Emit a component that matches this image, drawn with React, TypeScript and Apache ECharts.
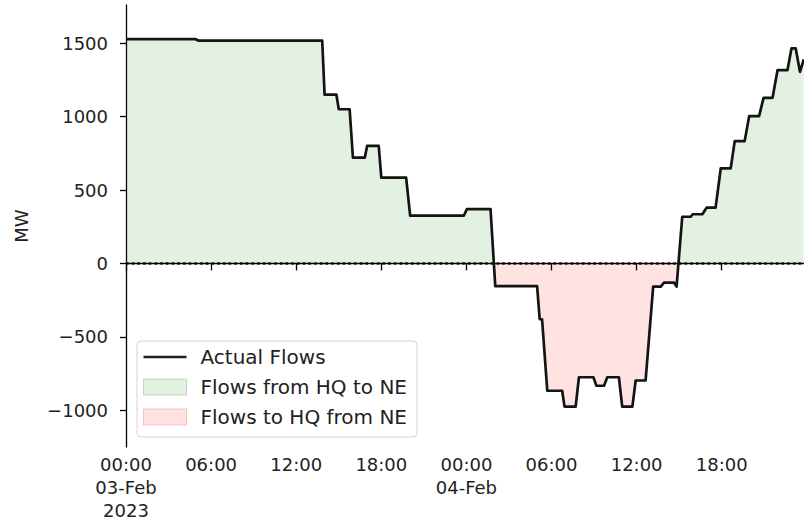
import React, { useEffect, useRef } from 'react';
import * as echarts from 'echarts';

// Hydro-Québec <-> New England tie flows, MW
const times = [
  '2023-02-03 00:00', '2023-02-03 04:55', '2023-02-03 05:05', '2023-02-03 13:50',
  '2023-02-03 14:00', '2023-02-03 14:50', '2023-02-03 15:00', '2023-02-03 15:46',
  '2023-02-03 16:00', '2023-02-03 16:50', '2023-02-03 17:00', '2023-02-03 17:49',
  '2023-02-03 18:00', '2023-02-03 19:45', '2023-02-03 20:02', '2023-02-03 23:49',
  '2023-02-04 00:02', '2023-02-04 01:42', '2023-02-04 02:02', '2023-02-04 04:59',
  '2023-02-04 05:10', '2023-02-04 05:20', '2023-02-04 05:42', '2023-02-04 06:45',
  '2023-02-04 06:55', '2023-02-04 07:42', '2023-02-04 07:56', '2023-02-04 08:57',
  '2023-02-04 09:10', '2023-02-04 09:42', '2023-02-04 09:56', '2023-02-04 10:45',
  '2023-02-04 10:59', '2023-02-04 11:42', '2023-02-04 11:56', '2023-02-04 12:38',
  '2023-02-04 13:10', '2023-02-04 13:42', '2023-02-04 13:56', '2023-02-04 14:38',
  '2023-02-04 14:49', '2023-02-04 15:13', '2023-02-04 15:49', '2023-02-04 15:57',
  '2023-02-04 16:38', '2023-02-04 16:56', '2023-02-04 17:34', '2023-02-04 17:56',
  '2023-02-04 18:38', '2023-02-04 18:55', '2023-02-04 19:37', '2023-02-04 19:56',
  '2023-02-04 20:38', '2023-02-04 20:57', '2023-02-04 21:35', '2023-02-04 21:56',
  '2023-02-04 22:38', '2023-02-04 22:55', '2023-02-04 23:13', '2023-02-04 23:31',
  '2023-02-04 23:47',
];
const flows = [
  1527, 1527, 1518, 1518,
  1150, 1150, 1050, 1050,
  720, 720, 800, 800,
  585, 585, 325, 325,
  370, 370, -155, -155,
  -380, -380, -867, -867,
  -975, -975, -775, -775,
  -833, -833, -775, -775,
  -975, -975, -797, -797,
  -158, -158, -130, -130,
  -158, 318, 318, 335,
  335, 380, 380, 648,
  648, 833, 833, 1003,
  1003, 1128, 1128, 1316,
  1316, 1464, 1464, 1305,
  1389,
];

const xStart = '2023-02-03 00:00';
const xEnd = '2023-02-04 23:48';
const xTickTimes = [
  '2023-02-03 00:00', '2023-02-03 06:00', '2023-02-03 12:00', '2023-02-03 18:00',
  '2023-02-04 00:00', '2023-02-04 06:00', '2023-02-04 12:00', '2023-02-04 18:00',
];
const xTickLabels = [
  '00:00\n03-Feb\n2023', '06:00', '12:00', '18:00',
  '00:00\n04-Feb', '06:00', '12:00', '18:00',
];
const yTicks = [-1000, -500, 0, 500, 1000, 1500];
const yMin = -1250;
const yMax = 1760;
const zeroLevel = 0;

const seriesNames = ['Actual Flows', 'Flows from HQ to NE', 'Flows to HQ from NE'];

function ts(s: string): number {
  const [d, t] = s.split(' ');
  const [Y, M, D] = d.split('-').map(Number);
  const [h, mi] = t.split(':').map(Number);
  return Date.UTC(Y, M - 1, D, h, mi);
}

const FONT = 'DejaVu Sans';
const GREEN_FILL = 'rgba(0,128,0,0.11)';
const RED_FILL = 'rgba(255,0,0,0.11)';
const LINE_COLOR = '#141414';

export default function App() {
  const ref = useRef<HTMLDivElement>(null);

  useEffect(() => {
    document.body.style.margin = '0';
    if (!ref.current) return;
    const chart = echarts.init(ref.current, null, { renderer: 'svg' });
    const data = times.map((t, i) => [ts(t), flows[i]]);
    const tickVals = xTickTimes.map(ts);
    const labelFor = (v: number) => {
      let best = 0;
      tickVals.forEach((tv, i) => {
        if (Math.abs(tv - v) < Math.abs(tickVals[best] - v)) best = i;
      });
      return xTickLabels[best];
    };

    chart.setOption({
      animation: false,
      textStyle: { fontFamily: FONT },
      grid: { left: 126, right: 0, top: 5, bottom: 76, containLabel: false, outerBoundsMode: 'none' },
      legend: {
        orient: 'vertical',
        left: 137,
        top: 341,
        padding: [6, 10, 10, 6],
        itemWidth: 43,
        itemHeight: 16,
        itemGap: 10,
        backgroundColor: 'rgba(255,255,255,0.8)',
        borderColor: '#d4d4d4',
        borderWidth: 1,
        borderRadius: 4,
        selectedMode: false,
        textStyle: { fontFamily: FONT, fontSize: 20, lineHeight: 20, color: '#222', padding: [0, 0, 0, 9] },
        data: [
          { name: seriesNames[0], icon: 'path://M0,0H43V2.6H0Z', itemStyle: { color: '#222', borderWidth: 0 } },
          { name: seriesNames[1], icon: 'rect', itemStyle: { color: GREEN_FILL, borderColor: 'rgba(0,128,0,0.22)', borderWidth: 1 } },
          { name: seriesNames[2], icon: 'rect', itemStyle: { color: RED_FILL, borderColor: 'rgba(255,0,0,0.22)', borderWidth: 1 } },
        ],
      },
      visualMap: {
        show: false,
        type: 'piecewise',
        seriesIndex: 0,
        dimension: 1,
        pieces: [
          { min: -100000, max: 0, color: RED_FILL },
          { min: 0, max: 100000, color: GREEN_FILL },
        ],
        outOfRange: { color: GREEN_FILL },
      },
      xAxis: {
        type: 'value',
        min: ts(xStart),
        max: ts(xEnd),
        axisLine: { show: true, lineStyle: { color: '#000', width: 1.3 } },
        axisTick: {
          show: true,
          customValues: tickVals,
          length: 7,
          lineStyle: { color: '#000', width: 1.3 },
        },
        axisLabel: {
          customValues: tickVals,
          formatter: (v: number) => labelFor(v),
          fontFamily: FONT,
          fontSize: 18,
          lineHeight: 23,
          color: '#222',
          margin: 6,
        },
        splitLine: { show: false },
      },
      yAxis: {
        type: 'value',
        min: yMin,
        max: yMax,
        name: 'MW',
        nameLocation: 'middle',
        nameGap: 96,
        nameTextStyle: { fontFamily: FONT, fontSize: 18, color: '#222' },
        axisLine: { show: true, lineStyle: { color: '#000', width: 1.3 } },
        axisTick: { show: true, customValues: yTicks, length: 6, lineStyle: { color: '#000', width: 1.3 } },
        axisLabel: {
          customValues: yTicks,
          formatter: (v: number) => String(v).replace('-', '\u2212'),
          fontFamily: FONT,
          fontSize: 18,
          color: '#222',
          margin: 18,
        },
        splitLine: { show: false },
      },
      series: [
        {
          name: 'Flow fill',
          type: 'line',
          data,
          symbol: 'none',
          silent: true,
          lineStyle: { width: 0, opacity: 0 },
          areaStyle: { opacity: 1 },
          z: 1,
        },
        {
          name: 'Zero',
          type: 'line',
          data: [[ts(xStart), zeroLevel], [ts(xEnd), zeroLevel]],
          symbol: 'none',
          silent: true,
          lineStyle: { color: '#000', width: 2.6, type: [2.6, 3.1], opacity: 0.85 },
          z: 2,
        },
        {
          name: seriesNames[0],
          type: 'line',
          data,
          symbol: 'none',
          lineStyle: { color: LINE_COLOR, width: 2.7, join: 'round' },
          itemStyle: { color: LINE_COLOR },
          z: 3,
        },
        { name: seriesNames[1], type: 'line', data: [], symbol: 'none', itemStyle: { color: GREEN_FILL } },
        { name: seriesNames[2], type: 'line', data: [], symbol: 'none', itemStyle: { color: RED_FILL } },
      ],
    });

    return () => chart.dispose();
  }, []);

  return <div ref={ref} style={{ width: 804, height: 523 }} />;
}
